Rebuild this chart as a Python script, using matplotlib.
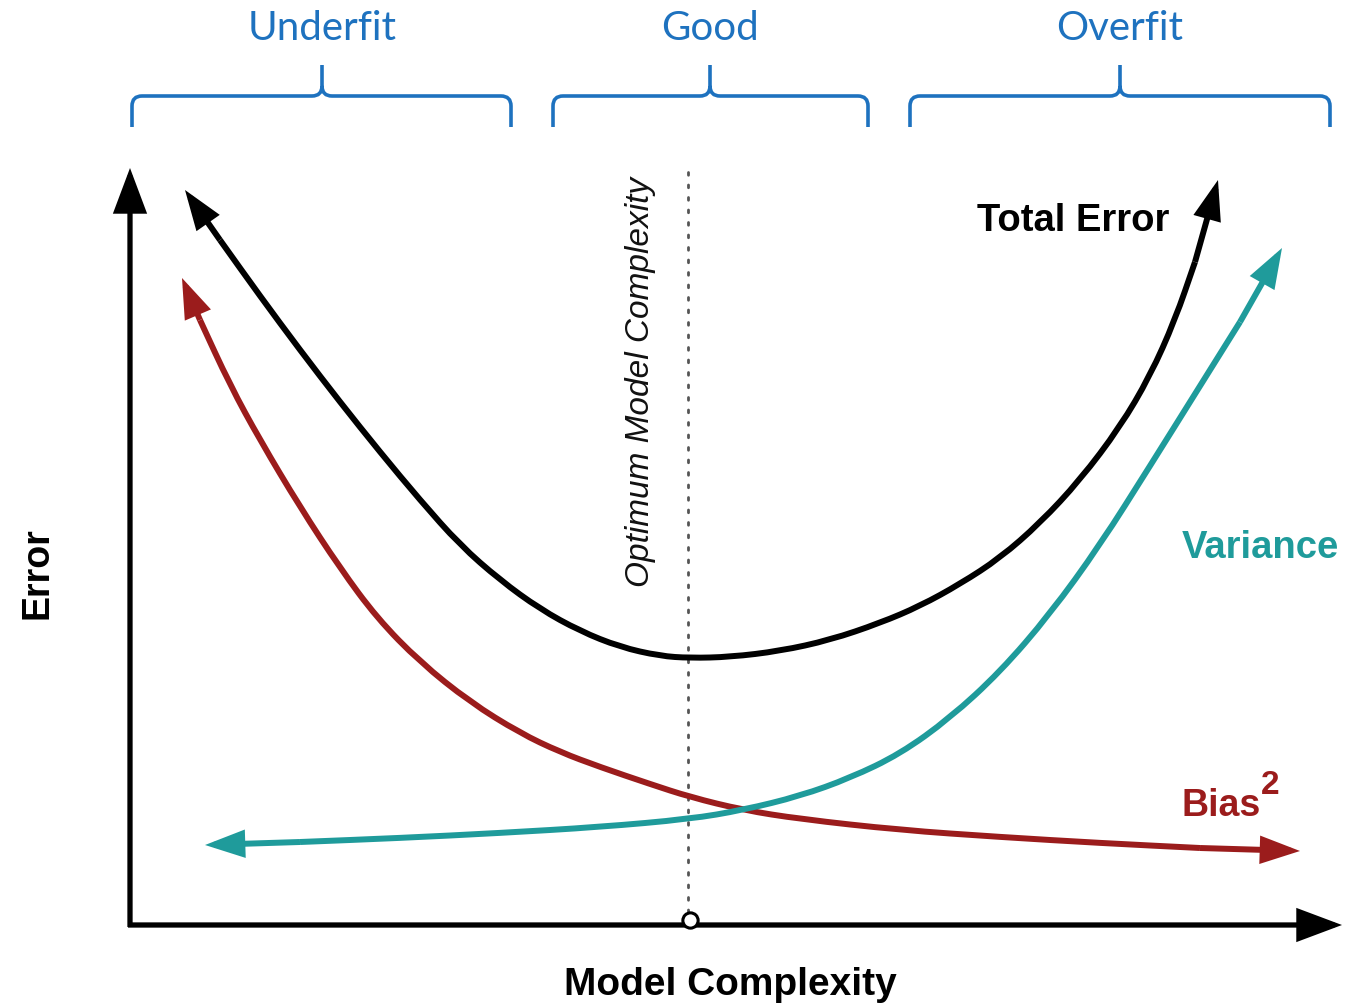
import matplotlib
matplotlib.use("Agg")
import matplotlib.pyplot as plt
from matplotlib.path import Path
from matplotlib.patches import PathPatch, ArrowStyle

# Conceptual curves, in canvas units (x to the right, y downward)
total_x = [185, 220, 260, 300, 340, 380, 420, 460, 500, 540, 580, 620, 660, 690,
           730, 780, 830, 880, 920, 960, 1000, 1040, 1080, 1120, 1150, 1175, 1195, 1218]
total_y = [190, 240, 296, 350, 402, 452, 500, 545, 580, 609, 631, 647, 656, 658,
           657, 651, 640, 623, 606, 584, 558, 523, 480, 427, 376, 320, 262, 180]

bias_x = [182, 200, 230, 260, 300, 340, 377, 420, 470, 520, 560, 600, 650, 690,
          743, 800, 900, 1000, 1100, 1200, 1300]
bias_y = [278, 320, 385, 440, 507, 568, 618, 662, 702, 733, 752, 767, 784, 797,
          810, 819, 830, 837, 843, 848, 851]

var_x = [205, 300, 400, 500, 600, 690, 743, 800, 850, 900, 950, 1000, 1050,
         1100, 1150, 1200, 1240, 1282]
var_y = [845, 842, 838, 833, 827, 819, 810, 796, 778, 754, 718, 672, 614,
         545, 466, 386, 322, 248]

# Fit regimes along the complexity axis: label, left, centre, right
regimes = ["Underfit", "Good", "Overfit"]
regime_left = [132, 553, 910]
regime_mid = [322, 710, 1120]
regime_right = [511, 868, 1330]

optimum_x = 688

BLACK = "#000000"
RED = "#9b1c1c"
TEAL = "#1f9b9b"
BLUE = "#1e72bf"
LW = 4.3

W, H = 1348, 1006
fig = plt.figure(figsize=(W / 100, H / 100), dpi=100)
ax = fig.add_axes([0, 0, 1, 1])
ax.set_xlim(0, W)
ax.set_ylim(H, 0)
ax.axis("off")

axis_head = ArrowStyle("-|>", head_length=0.8, head_width=0.3)
curve_head = ArrowStyle("-|>", head_length=0.85, head_width=0.3)


def arrow(p_from, p_to, color, style, scale, lw):
    ax.annotate("", xy=p_to, xytext=p_from,
                arrowprops=dict(arrowstyle=style, mutation_scale=scale,
                                color=color, lw=lw, shrinkA=0, shrinkB=0,
                                capstyle="butt", joinstyle="miter"))


# Axes with arrowheads
arrow((130, 927), (130, 168), BLACK, axis_head, 32, 3.8)
arrow((128, 925), (1342, 925), BLACK, axis_head, 32, 3.8)

# Optimum complexity marker
ax.plot([optimum_x, optimum_x], [172, 912], color="#555555", lw=2.0,
        linestyle=(0, (1, 3.5)), dash_capstyle="round")
ax.plot([690], [920], marker="o", ms=11, mfc="white", mec=BLACK, mew=2.2,
        zorder=5)


def smooth_path(pts):
    """Quadratic Bezier chain through the midpoints of consecutive points."""
    verts = [pts[0]]
    codes = [Path.MOVETO]
    mids = [((a[0] + b[0]) / 2, (a[1] + b[1]) / 2) for a, b in zip(pts[:-1], pts[1:])]
    verts.append(mids[0])
    codes.append(Path.LINETO)
    for i in range(1, len(pts) - 1):
        verts += [pts[i], mids[i]]
        codes += [Path.CURVE3, Path.CURVE3]
    verts.append(pts[-1])
    codes.append(Path.LINETO)
    return Path(verts, codes)


def curve(xs, ys, color):
    pts = list(zip(xs, ys))
    body = pts[1:-1]
    ax.add_patch(PathPatch(smooth_path(body), fill=False, edgecolor=color,
                           lw=LW, capstyle="butt", joinstyle="round", zorder=3))
    arrow(pts[1], pts[0], color, curve_head, 24, LW)
    arrow(pts[-2], pts[-1], color, curve_head, 24, LW)


curve(bias_x, bias_y, RED)
curve(var_x, var_y, TEAL)
curve(total_x, total_y, BLACK)

# Braces for the three regimes
for name, x0, xm, x1 in zip(regimes, regime_left, regime_mid, regime_right):
    yb, yt, ye, r = 96, 65, 127, 10
    verts = [(x0, ye), (x0, yb + r), (x0, yb), (x0 + r, yb),
             (xm - r, yb), (xm, yb), (xm, yb - r), (xm, yt),
             (xm, yb - r), (xm, yb), (xm + r, yb),
             (x1 - r, yb), (x1, yb), (x1, yb + r), (x1, ye)]
    codes = [Path.MOVETO, Path.LINETO, Path.CURVE3, Path.CURVE3,
             Path.LINETO, Path.CURVE3, Path.CURVE3, Path.LINETO,
             Path.MOVETO, Path.CURVE3, Path.CURVE3,
             Path.LINETO, Path.CURVE3, Path.CURVE3, Path.LINETO]
    ax.add_patch(PathPatch(Path(verts, codes), fill=False, edgecolor=BLUE,
                           lw=2.6, capstyle="butt", joinstyle="round"))
    ax.text(xm, 28, name, ha="center", va="center", color=BLUE,
            fontsize=29, family="Lato")

# Labels
bold = dict(family="Liberation Sans", fontweight="bold")
ax.text(977, 221, "Total Error", ha="left", va="center", color=BLACK,
        fontsize=27.5, **bold)
ax.text(1182, 548, "Variance", ha="left", va="center", color=TEAL,
        fontsize=27.5, **bold)
ax.text(1182, 816, "Bias", ha="left", va="baseline", color=RED,
        fontsize=27, **bold)
ax.text(1261, 794, "2", ha="left", va="baseline", color=RED,
        fontsize=24, **bold)
ax.text(730, 985, "Model Complexity", ha="center", va="center", color=BLACK,
        fontsize=28, **bold)
ax.text(37, 573, "Error", ha="center", va="center", rotation=90,
        color=BLACK, fontsize=27, **bold)
ax.text(640, 382, "Optimum Model Complexity", ha="center", va="center",
        rotation=90, color="#111111", fontsize=24, style="italic",
        family="Liberation Sans")

fig.savefig("out.png", dpi=100, facecolor="white")
